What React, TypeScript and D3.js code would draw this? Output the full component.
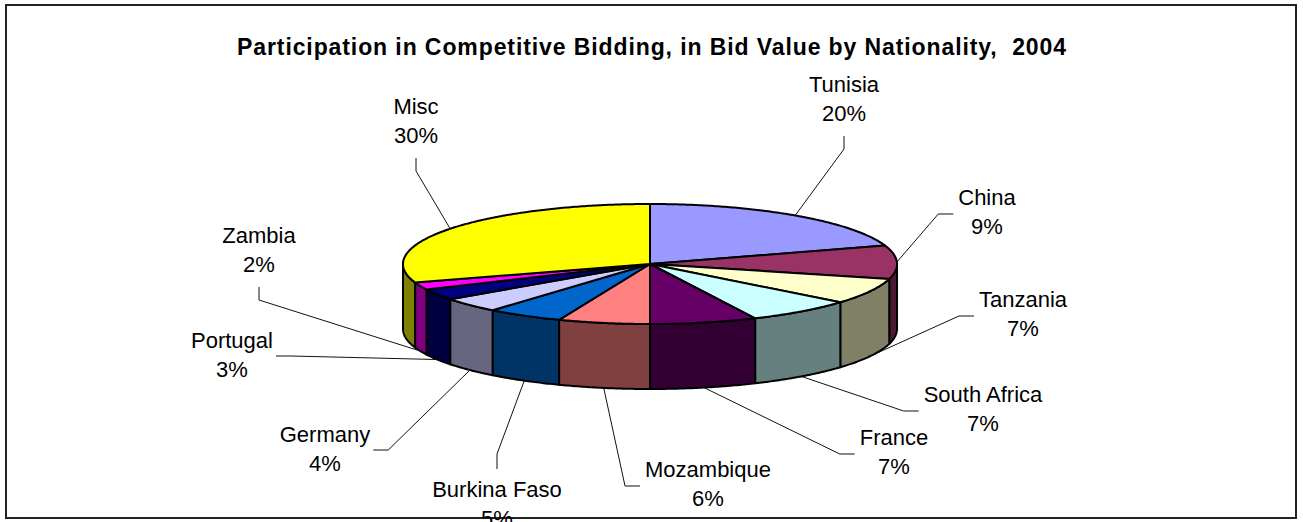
import * as d3 from "d3";
import { useEffect, useRef } from "react";

// data
const countries = ["Tunisia", "China", "Tanzania", "South Africa", "France", "Mozambique", "Burkina Faso", "Germany", "Portugal", "Zambia", "Misc"];
const shares = [20, 9, 7, 7, 7, 6, 5, 4, 3, 2, 30];
const topColors = ["#9999FF", "#993366", "#FFFFCC", "#CCFFFF", "#660066", "#FF8080", "#0066CC", "#CCCCFF", "#000080", "#FF00FF", "#FFFF00"];

const title = "Participation in Competitive Bidding, in Bid Value by Nationality,  2004";

// label placement (center x, first baseline y, where the leader leaves the label)
const labelLayout = [
    { x: 844, y: 92, stub: "below" },
    { x: 987, y: 205, stub: "left" },
    { x: 1023, y: 307, stub: "left" },
    { x: 983, y: 402, stub: "left" },
    { x: 894, y: 445, stub: "left" },
    { x: 708, y: 477, stub: "left" },
    { x: 497, y: 497, stub: "above" },
    { x: 325, y: 442, stub: "right" },
    { x: 232, y: 348, stub: "right" },
    { x: 259, y: 243, stub: "below" },
    { x: 416, y: 114, stub: "below" }
];

const W = 1303;
const H = 522;
const pie3d = { cx: 650, cy: 264, rx: 247, ry: 60, depth: 65 };
const FONT = "Arial, 'Liberation Sans', sans-serif";

const App = () => {
    const ref = useRef<SVGSVGElement | null>(null);

    useEffect(() => {
        const svg = d3.select(ref.current);
        svg.selectAll("*").remove();

        const { cx, cy, rx, ry, depth } = pie3d;
        const pt = (a: number, dz: number): [number, number] => [cx + rx * Math.sin(a), cy - ry * Math.cos(a) + dz];
        const arcPts = (a0: number, a1: number, dz: number) => {
            const n = Math.max(2, Math.ceil(Math.abs(a1 - a0) / 0.01));
            return d3.range(n + 1).map(i => pt(a0 + (a1 - a0) * i / n, dz));
        };
        const line = d3.line();

        // frame
        svg.append("rect")
            .attr("x", 6).attr("y", 5).attr("width", 1290).attr("height", 513)
            .attr("fill", "#fff").attr("stroke", "#222").attr("stroke-width", 2);

        svg.append("text")
            .attr("x", 652).attr("y", 55)
            .attr("text-anchor", "middle")
            .style("font-family", FONT).style("font-weight", "bold").style("font-size", "23px")
            .style("letter-spacing", "0.9px")
            .style("white-space", "pre")
            .text(title);

        const arcs = d3.pie<number>().sort(null).value(d => d)(shares);
        const total = d3.sum(shares);

        // side walls of the front half
        arcs.forEach((d, i) => {
            const a0 = Math.max(d.startAngle, Math.PI / 2);
            const a1 = Math.min(d.endAngle, 3 * Math.PI / 2);
            if (a0 >= a1) return;
            const c = d3.rgb(topColors[i]);
            const side = d3.rgb(c.r * 0.5, c.g * 0.5, c.b * 0.5);
            const pts = arcPts(a0, a1, 0).concat(arcPts(a1, a0, depth));
            svg.append("path")
                .attr("d", line(pts) + "Z")
                .attr("fill", side.toString())
                .attr("stroke", "#000").attr("stroke-width", 2).attr("stroke-linejoin", "round");
        });

        // top faces
        arcs.forEach((d, i) => {
            const pts = [[cx, cy] as [number, number]].concat(arcPts(d.startAngle, d.endAngle, 0));
            svg.append("path")
                .attr("d", line(pts) + "Z")
                .attr("fill", topColors[i])
                .attr("stroke", "#000").attr("stroke-width", 2).attr("stroke-linejoin", "round");
        });

        // labels with leader lines
        arcs.forEach((d, i) => {
            const lay = labelLayout[i];
            const g = svg.append("g").style("font-family", FONT).style("font-size", "22px");
            const t1 = g.append("text").attr("x", lay.x).attr("y", lay.y).attr("text-anchor", "middle").attr("fill", "#000").text(countries[i]);
            const t2 = g.append("text").attr("x", lay.x).attr("y", lay.y + 29).attr("text-anchor", "middle").attr("fill", "#000")
                .text(Math.round(shares[i] / total * 100) + "%");
            const w = Math.max((t1.node() as SVGTextElement).getComputedTextLength(), (t2.node() as SVGTextElement).getComputedTextLength());

            const mid = (d.startAngle + d.endAngle) / 2;
            const anchor = pt(mid, Math.cos(mid) >= 0 ? 0 : depth);

            let s0: [number, number];
            let s1: [number, number];
            if (lay.stub === "below") {
                s0 = [lay.x, lay.y + 29 + 15];
                s1 = [lay.x, lay.y + 29 + 28];
            } else if (lay.stub === "above") {
                s0 = [lay.x, lay.y - 28];
                s1 = [lay.x, lay.y - 43];
            } else if (lay.stub === "left") {
                s0 = [lay.x - w / 2 - 5, lay.y + 9];
                s1 = [lay.x - w / 2 - 20, lay.y + 9];
            } else {
                s0 = [lay.x + w / 2 + 3, lay.y + 8];
                s1 = [lay.x + w / 2 + 18, lay.y + 8];
            }
            svg.append("path")
                .attr("d", line([s0, s1, anchor]))
                .attr("fill", "none").attr("stroke", "#111").attr("stroke-width", 1);
        });
    }, []);

    return (
        <svg ref={ref} width={W} height={H} style={{ position: "absolute", left: 0, top: 0, background: "#fff" }}></svg>
    );
};

export default App;
